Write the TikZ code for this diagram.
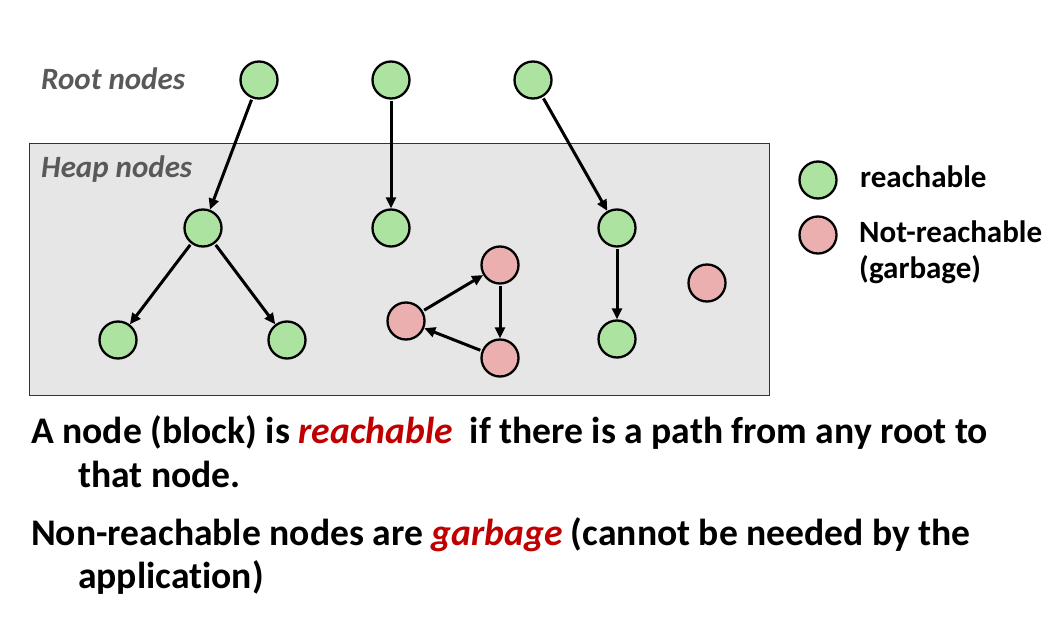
\documentclass[tikz,border=0pt]{standalone}
\usepackage{fontspec}
\setmainfont{Carlito}[Ligatures={NoCommon}]
\usetikzlibrary{arrows.meta}
\definecolor{ngreen}{HTML}{ADE3A0}
\definecolor{npink}{HTML}{EBAFAF}
\definecolor{heapfill}{HTML}{E6E6E6}
\definecolor{labgray}{HTML}{595959}
\definecolor{hlred}{HTML}{C00000}
\begin{document}
\begin{tikzpicture}[x=1pt,y=-1pt,
  gnode/.style={circle,draw=black,line width=2.3pt,fill=ngreen,minimum size=37pt,inner sep=0pt},
  pnode/.style={circle,draw=black,line width=2.3pt,fill=npink,minimum size=37pt,inner sep=0pt},
  edge/.style={-{Triangle[length=11pt,width=10pt]},line width=3pt,shorten <=1.5pt,shorten >=0pt},
  lab/.style={anchor=base west,inner sep=0pt,font=\fontsize{31}{36}\selectfont\bfseries\itshape,text=labgray},
  leg/.style={anchor=base west,inner sep=0pt,font=\fontsize{31}{36}\selectfont\bfseries},
  body/.style={anchor=base west,inner sep=0pt,font=\fontsize{37.6}{44}\selectfont\bfseries}]
\useasboundingbox (0,0) rectangle (1052,639);
\fill[white] (0,0) rectangle (1052,639);
\draw[fill=heapfill,draw=black!80,line width=1pt] (29,144) rectangle (769,395);
\node[lab] (rootlab) at (41,90) {Root nodes};
\node[lab] (heaplab) at (41,178) {Heap nodes};
% root nodes
\node[gnode] (r1) at (259,80) {};
\node[gnode] (r2) at (391,80) {};
\node[gnode] (r3) at (533,80) {};
% heap nodes
\node[gnode] (h1) at (203,228) {};
\node[gnode] (h2) at (391,228) {};
\node[gnode] (h3) at (617,228) {};
\node[gnode] (h4) at (118,340) {};
\node[gnode] (h5) at (287,340) {};
\node[gnode] (h6) at (617,339) {};
\node[pnode] (p1) at (500,265) {};
\node[pnode] (p2) at (406,321) {};
\node[pnode] (p3) at (500,358) {};
\node[pnode] (p4) at (707,283) {};
% edges
\draw[edge] (r1) -- (h1);
\draw[edge] (r2) -- (h2);
\draw[edge] (r3) -- (h3);
\draw[edge] (h1) -- (h4);
\draw[edge] (h1) -- (h5);
\draw[edge] (h3) -- (h6);
\draw[edge] (p1) -- (p3);
\draw[edge] (p3) -- (p2);
\draw[edge] (p2) -- (p1);
% legend
\node[gnode] (lg) at (818,180) {};
\node[pnode] (lp) at (818,235) {};
\node[leg] (lgt) at (860,188) {reachable};
\node[leg] (lpt1) at (859,243) {Not-reachable};
\node[leg] (lpt2) at (859,278) {(garbage)};
% body text
\node[body] (t1) at (31,443) {A node (block) is \textcolor{hlred}{\itshape reachable}\ \ if there is a path from any root to};
\node[body] (t2) at (78,487) {that node.};
\node[body] (t3) at (31,545) {Non-reachable nodes are \textcolor{hlred}{\itshape garbage} (cannot be needed by the};
\node[body] (t4) at (78,588) {application)};
\end{tikzpicture}
\end{document}
